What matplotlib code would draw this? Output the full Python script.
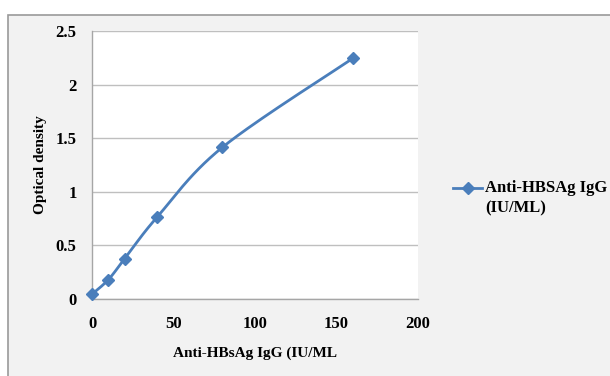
import numpy as np
import matplotlib
matplotlib.use("Agg")
import matplotlib.pyplot as plt
from matplotlib.patches import Rectangle
from matplotlib.lines import Line2D

# values
conc = [0, 10, 20, 40, 80, 160]
od = [0.045, 0.18, 0.375, 0.765, 1.415, 2.245]
x_ticks = [0, 50, 100, 150, 200]
y_ticks = [0, 0.5, 1, 1.5, 2, 2.5]
y_tick_labels = ["0", "0.5", "1", "1.5", "2", "2.5"]
series_name = ["Anti-HBSAg IgG", "(IU/ML)"]

BLUE = "#4a7ebb"
GRID = "#bfbfbf"
BG = "#f2f2f2"
W, H = 610, 376


def smooth(xs, ys, steps=30):
    # Excel-style smoothed line: cardinal spline through the points
    xs = np.asarray(xs, float)
    ys = np.asarray(ys, float)
    px = np.concatenate([[xs[0]], xs, [xs[-1]]])
    py = np.concatenate([[ys[0]], ys, [ys[-1]]])
    t = np.linspace(0, 1, steps)
    out_x, out_y = [], []
    k = 1 / 6
    for i in range(1, len(px) - 2):
        p0 = np.array([px[i], py[i]])
        p3 = np.array([px[i + 1], py[i + 1]])
        c1 = p0 + k * (np.array([px[i + 1], py[i + 1]]) - np.array([px[i - 1], py[i - 1]]))
        c2 = p3 - k * (np.array([px[i + 2], py[i + 2]]) - np.array([px[i], py[i]]))
        for tt in t:
            b = ((1 - tt) ** 3) * p0 + 3 * ((1 - tt) ** 2) * tt * c1 + 3 * (1 - tt) * tt ** 2 * c2 + tt ** 3 * p3
            out_x.append(b[0])
            out_y.append(b[1])
    return out_x, out_y


plt.rcParams['font.family'] = ['Liberation Serif', 'DejaVu Serif']
plt.rcParams['font.weight'] = 'bold'

fig = plt.figure(figsize=(W / 100, H / 100), dpi=100)
fig.patch.set_facecolor('white')
bg = Rectangle((8 / W, -0.05), 1.1, 1 - 15 / H + 0.05, transform=fig.transFigure,
               facecolor=BG, edgecolor='#9a9a9a', linewidth=1.2, zorder=-5)
fig.patches.append(bg)

ax = fig.add_axes([92 / W, 1 - 299 / H, 326 / W, 268 / H])
ax.set_zorder(1)
ax.set_facecolor('white')
ax.set_xlim(0, 200)
ax.set_ylim(0, 2.5)
ax.set_xticks(x_ticks)
ax.set_yticks(y_ticks)
ax.set_yticklabels(y_tick_labels)
ax.tick_params(length=0, labelsize=12)
ax.tick_params(axis='y', pad=11)
ax.tick_params(axis='x', pad=12)
ax.grid(axis='y', color=GRID, linewidth=1)
ax.set_axisbelow(True)
for s in ['top', 'right']:
    ax.spines[s].set_visible(False)
for s in ['left', 'bottom']:
    ax.spines[s].set_color('#a6a6a6')
    ax.spines[s].set_linewidth(1)

sx, sy = smooth(conc, od)
ax.plot(sx, sy, color=BLUE, linewidth=2, clip_on=False, zorder=3)
ax.plot(conc, od, linestyle='none', marker='D', markersize=6, color=BLUE, clip_on=False, zorder=4)

ax.set_xlabel("Anti-HBsAg IgG (IU/ML", fontsize=11, fontweight='bold', labelpad=11)
ax.set_ylabel("Optical density", fontsize=11, fontweight='bold', labelpad=6)

# legend: handle sits on the first text line, like Excel
ly = 1 - 188 / H
fig.add_artist(Line2D([453 / W, 482 / W], [ly, ly], color=BLUE, linewidth=2))
fig.add_artist(Line2D([467.5 / W], [ly], marker='D', markersize=6, color=BLUE))
fig.text(485 / W, ly, series_name[0], fontsize=12, fontweight='bold', va='center', ha='left')
fig.text(485 / W, 1 - 208 / H, series_name[1], fontsize=12, fontweight='bold', va='center', ha='left')

fig.savefig("out.png", dpi=100, facecolor=fig.get_facecolor())
